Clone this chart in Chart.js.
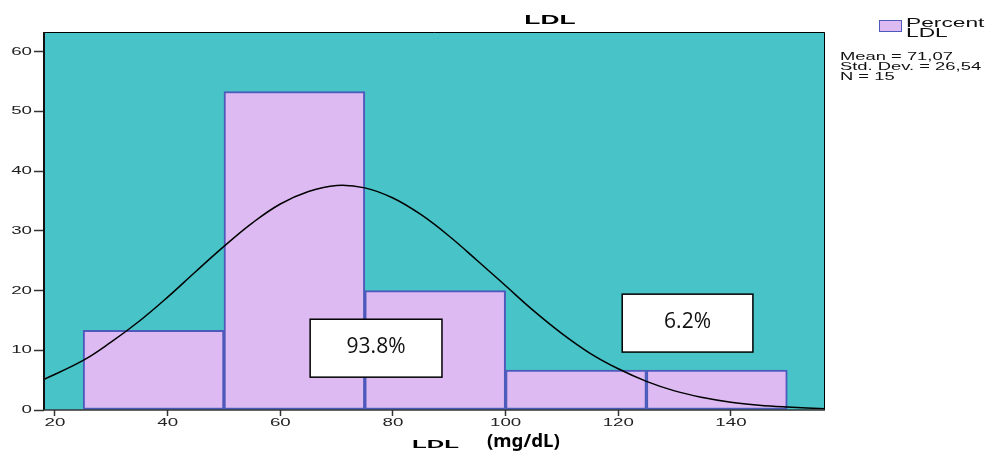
<!DOCTYPE html>
<html>
<head>
<meta charset="utf-8">
<script src="https://cdn.jsdelivr.net/npm/chart.js@4.4.1/dist/chart.umd.min.js"></script>
<style>
html, body { margin: 0; padding: 0; background: #fff; }
canvas { display: block; }
</style>
</head>
<body>
<canvas id="ldl-chart" width="987" height="452"></canvas>
<script>
// histogram bins (mg/dL) and percent of patients per bin
var binStarts = [25, 50, 75, 100, 125];
var binWidth = 25;
var percents = [13.33, 53.33, 20.0, 6.67, 6.67];

// normal curve over the histogram
var curveX = [18, 25, 30, 35, 40, 45, 50, 55, 60, 65, 70, 75, 80, 85, 90, 95, 100, 105, 110, 115, 120, 125, 130, 135, 140, 145, 150, 157];
var curveY = [5.1, 8.3, 11.4, 14.9, 18.9, 23.2, 27.4, 31.3, 34.5, 36.6, 37.6, 37.2, 35.5, 32.7, 29.1, 25.0, 20.8, 16.6, 12.8, 9.5, 6.9, 4.8, 3.2, 2.1, 1.3, 0.8, 0.5, 0.2];

var xTicks = [20, 40, 60, 80, 100, 120, 140];
var yTicks = [0, 10, 20, 30, 40, 50, 60];

var boxLabels = ['93.8%', '6.2%'];
var statLines = ['Mean = 71,07', 'Std. Dev. = 26,54', 'N = 15'];

// where the two label boxes sit, in axis units
var boxPlaces = [
    { x0: 65.3, x1: 88.7, y0: 5.5, y1: 15.2 },
    { x0: 120.7, x1: 143.9, y0: 9.7, y1: 19.4 }
];

var TEAL = '#48c3c7';
var LAVENDER = '#debaf2';
var BAR_EDGE = '#4d5abb';

// SPSS-style text is stretched sideways
function wideText(ctx, text, x, y, font, sx, align) {
    ctx.save();
    ctx.font = font;
    var w = ctx.measureText(text).width * sx;
    var left = align === 'center' ? x - w / 2 : (align === 'right' ? x - w : x);
    ctx.translate(left, y);
    ctx.scale(sx, 1);
    ctx.textAlign = 'left';
    ctx.fillText(text, 0, 0);
    ctx.restore();
}

var bars = binStarts.map(function (s, i) {
    return { x: s + binWidth / 2, y: percents[i] };
});
var curve = curveX.map(function (x, i) {
    return { x: x, y: curveY[i] };
});

var decor = {
    id: 'decor',
    beforeDatasetsDraw: function (chart) {
        var a = chart.chartArea, ctx = chart.ctx;
        ctx.save();
        ctx.fillStyle = TEAL;
        ctx.fillRect(a.left, a.top, a.right - a.left, a.bottom - a.top);
        ctx.restore();
    },
    afterDatasetsDraw: function (chart) {
        var a = chart.chartArea, ctx = chart.ctx;
        var xs = chart.scales.x, ys = chart.scales.y;
        ctx.save();
        // frame
        ctx.strokeStyle = '#000';
        ctx.lineWidth = 1;
        ctx.beginPath();
        ctx.moveTo(a.left, a.top + 0.5);
        ctx.lineTo(a.right - 0.5, a.top + 0.5);
        ctx.lineTo(a.right - 0.5, a.bottom);
        ctx.stroke();
        ctx.lineWidth = 2;
        ctx.strokeStyle = '#111';
        ctx.beginPath();
        ctx.moveTo(a.left, a.top);
        ctx.lineTo(a.left, a.bottom);
        ctx.stroke();
        ctx.lineWidth = 1.5;
        ctx.strokeStyle = '#333';
        ctx.beginPath();
        ctx.moveTo(a.left, a.bottom);
        ctx.lineTo(a.right, a.bottom);
        ctx.stroke();

        // white label boxes
        ctx.font = '21px "Open Sans"';
        ctx.textAlign = 'center';
        ctx.textBaseline = 'middle';
        boxPlaces.forEach(function (p, i) {
            var l = xs.getPixelForValue(p.x0), r = xs.getPixelForValue(p.x1);
            var t = ys.getPixelForValue(p.y1), b = ys.getPixelForValue(p.y0);
            ctx.fillStyle = '#fff';
            ctx.fillRect(l, t, r - l, b - t);
            ctx.strokeStyle = '#000';
            ctx.lineWidth = 1.5;
            ctx.strokeRect(l, t, r - l, b - t);
            ctx.fillStyle = '#111';
            ctx.fillText(boxLabels[i], (l + r) / 2, (t + b) / 2 - 1);
        });
        ctx.restore();
    },
    afterDraw: function (chart) {
        var ctx = chart.ctx;
        var xs = chart.scales.x, ys = chart.scales.y;
        ctx.save();
        ctx.fillStyle = '#222';

        // tick labels
        ctx.textBaseline = 'middle';
        yTicks.forEach(function (v) {
            wideText(ctx, String(v), 32, ys.getPixelForValue(v), '11px "Liberation Sans"', 1.7, 'right');
        });
        xTicks.forEach(function (v) {
            wideText(ctx, String(v), xs.getPixelForValue(v), 423, '11px "Liberation Sans"', 1.7, 'center');
        });

        // titles
        ctx.textBaseline = 'alphabetic';
        ctx.fillStyle = '#000';
        wideText(ctx, 'LDL', 550, 24, 'bold 12px "Liberation Sans"', 2.2, 'center');
        wideText(ctx, 'LDL', 412, 448, 'bold 11px "Liberation Sans"', 2.2, 'left');
        wideText(ctx, '(mg/dL)', 487, 447, 'bold 17px "Noto Sans"', 1.1, 'left');

        // legend
        ctx.fillStyle = LAVENDER;
        ctx.fillRect(879, 20, 22, 11);
        ctx.strokeStyle = BAR_EDGE;
        ctx.lineWidth = 1;
        ctx.strokeRect(879.5, 20.5, 22, 11);
        ctx.fillStyle = '#111';
        wideText(ctx, 'Percent', 906, 27, '13px "Liberation Sans"', 1.75, 'left');
        wideText(ctx, 'LDL', 906, 37, '13px "Liberation Sans"', 1.75, 'left');

        // summary stats
        statLines.forEach(function (s, i) {
            wideText(ctx, s, 840, 60 + i * 10, '11px "Liberation Sans"', 1.67, 'left');
        });
        ctx.restore();
    }
};

new Chart(document.getElementById('ldl-chart'), {
    type: 'bar',
    data: {
        datasets: [{
            type: 'line',
            label: 'Normal',
            data: curve,
            borderColor: '#000',
            borderWidth: 1.5,
            pointRadius: 0,
            fill: false,
            tension: 0.4,
            order: 0
        }, {
            label: 'Percent',
            data: bars,
            backgroundColor: LAVENDER,
            borderColor: BAR_EDGE,
            borderWidth: 2,
            borderSkipped: false,
            barThickness: 'flex',
            barPercentage: 1,
            categoryPercentage: 1,
            order: 1
        }]
    },
    options: {
        responsive: false,
        animation: false,
        layout: { padding: { left: 0, right: 162, top: 32, bottom: 0 } },
        plugins: {
            legend: { display: false },
            title: { display: false },
            tooltip: { enabled: false }
        },
        scales: {
            x: {
                type: 'linear',
                min: 18.05,
                max: 156.7,
                offset: false,
                afterBuildTicks: function (scale) {
                    scale.ticks = xTicks.map(function (v) { return { value: v }; });
                },
                afterFit: function (scale) { scale.height = 42; },
                ticks: { display: false },
                border: { display: false },
                grid: {
                    display: true,
                    offset: false,
                    drawOnChartArea: false,
                    drawTicks: true,
                    tickLength: 6,
                    tickColor: '#333',
                    tickWidth: 1.5
                }
            },
            y: {
                type: 'linear',
                min: 0,
                max: 63.3,
                afterBuildTicks: function (scale) {
                    scale.ticks = yTicks.map(function (v) { return { value: v }; });
                },
                afterFit: function (scale) { scale.width = 44; },
                ticks: { display: false },
                border: { display: false },
                grid: {
                    display: true,
                    drawOnChartArea: false,
                    drawTicks: true,
                    tickLength: 10,
                    tickColor: '#333',
                    tickWidth: 1.5
                }
            }
        }
    },
    plugins: [decor]
});
</script>
</body>
</html>
